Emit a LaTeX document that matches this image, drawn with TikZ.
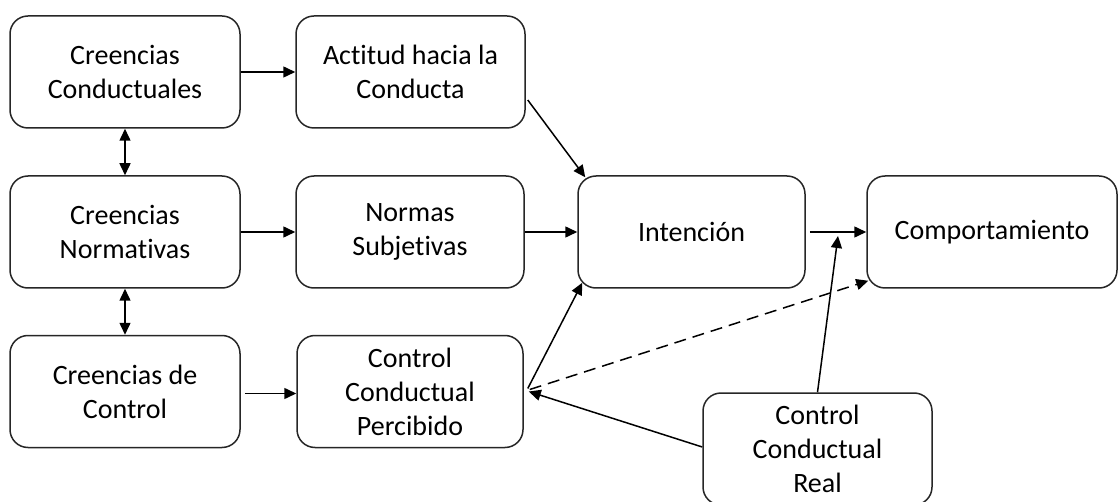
\documentclass[tikz,border=0pt]{standalone}
\usepackage{fontspec}
\setmainfont[Ligatures={NoCommon,NoContextual,NoRare}]{Carlito}
\newcommand\nlg{\kern0pt{}}
\usetikzlibrary{arrows.meta,calc}
\begin{document}
\begin{tikzpicture}[x=1pt,y=-1pt,
  box/.style={draw=black!85, line width=1.5pt, rounded corners=18pt, minimum height=112pt, align=center, font=\fontsize{28}{34}\selectfont, inner sep=0pt, fill=white},
  arr/.style={-{Triangle[length=12pt,width=11pt]}, line width=1.5pt},
  darr/.style={{Triangle[length=12pt,width=11pt]}-{Triangle[length=12pt,width=11pt]}, line width=1.5pt},
  dsh/.style={arr, dash pattern=on 12pt off 7pt}]
\useasboundingbox (0,0) rectangle (1118,502);
\node[box, minimum width=230pt] (cc) at (125,72) {Creencias\\Conductuales};
\node[box, minimum width=229pt] (act) at (410.5,72) {Act\nlg itud hacia la\\Conducta};
\node[box, minimum width=230pt] (cn) at (125,232) {Creencias\\Normat\nlg ivas};
\node[box, minimum width=228pt] (ns) at (410,232) {Normas\\Subjet\nlg ivas};
\node[box, minimum width=230pt] (cdc) at (125,391.5) {Creencias de\\Control};
\node[box, minimum width=226pt] (ccp) at (410,391.5) {Control\\Conductual\\Percibido};
\node[box, minimum width=227pt] (int) at (691.5,232) {Intención};
\node[box, minimum width=250pt] (comp) at (992,232) {Comportamiento};
\node[box, minimum width=229pt] (ccr) at (817.5,449) {Control\\Conductual\\Real};
\coordinate (j) at (838,236);
\draw[arr] (cc.east) -- (act.west);
\draw[darr] (cc.south) -- (cn.north);
\draw[darr] (cn.south) -- (cdc.north);
\draw[arr] (cn.east) -- (ns.west);
\draw[arr] ($(cdc.east)+(4,2)$) -- ($(ccp.west)+(0,2)$);
\draw[arr] (ns.east) -- (int.west);
\draw[arr] ($(act.east)+(2,28)$) -- ($(int.north west)+(8,2)$);
\draw[arr] ($(ccp.east)+(4,-3)$) -- ($(int.south west)+(5,-6)$);
\draw[arr] ($(int.east)+(4,0)$) -- (comp.west);
\draw[dsh] ($(ccp.east)+(6,-2)$) -- ($(comp.south west)+(2,-8)$);
\draw[arr] ($(ccr.west)+(0,-2)$) -- ($(ccp.east)+(5,0)$);
\draw[arr] (ccr.north) -- (j);
\end{tikzpicture}
\end{document}
